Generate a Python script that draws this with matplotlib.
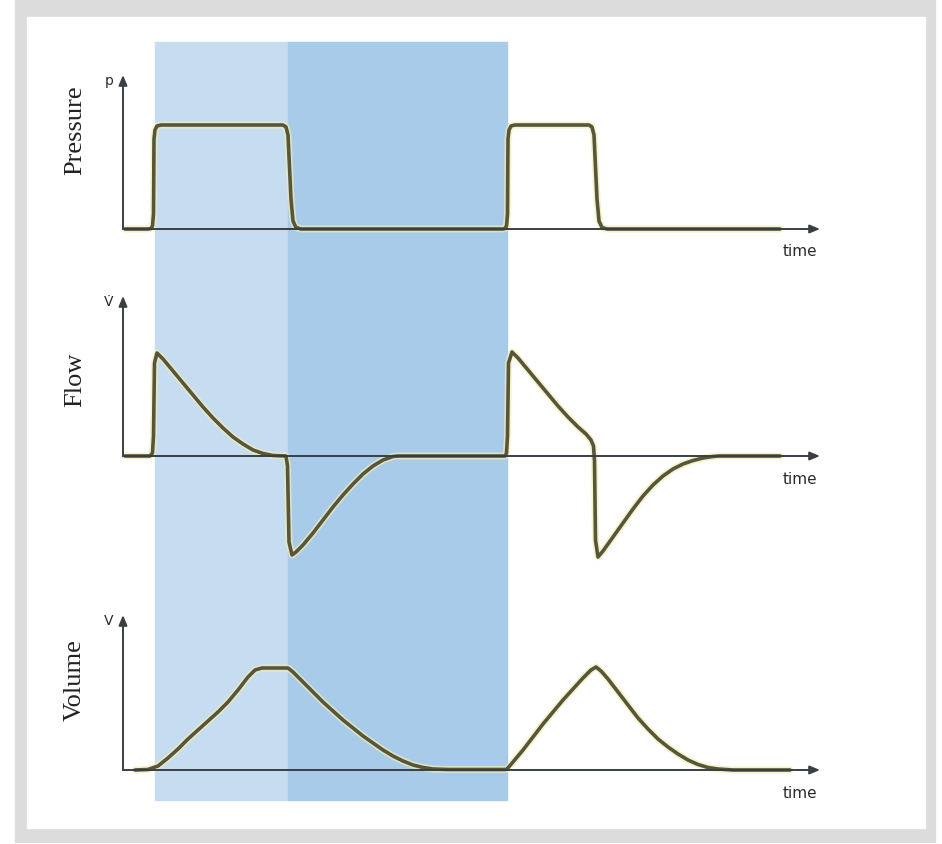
import matplotlib
matplotlib.use("Agg")
import matplotlib.pyplot as plt
import matplotlib.patheffects as pe
from matplotlib.patches import Rectangle
from matplotlib.transforms import blended_transform_factory

# waveform samples (time in arbitrary units)
p_time = [0.2, 2.5, 2.8, 2.95, 3.05, 3.1, 3.2, 3.4, 3.8, 16.0, 16.3, 16.5, 16.8, 17.0,
          17.3, 17.8, 38.0, 38.2, 38.35, 38.45, 38.5, 38.6, 38.8, 39.2, 46.6, 46.9,
          47.1, 47.4, 47.6, 47.9, 48.4, 65.7]
pressure = [0, 0, 0.05, 0.3, 1.5, 9.0, 9.9, 10.3, 10.4, 10.4, 10.2, 9.4, 3.0, 0.8,
            0.15, 0, 0, 0.05, 0.3, 1.5, 9.0, 9.9, 10.3, 10.4, 10.4, 10.2,
            9.4, 3.0, 0.8, 0.15, 0, 0]

f_time = [0.2, 2.7, 2.95, 3.05, 3.15, 3.4, 4.0, 5.0, 6.0, 7.0, 8.0, 9.0, 10.0, 11.0,
          12.0, 13.0, 14.0, 15.0, 16.3, 16.45, 16.6, 16.9, 17.3, 18.0, 19.0, 20.0,
          21.0, 22.0, 23.0, 24.0, 25.0, 26.0, 27.0, 27.5, 38.2, 38.35, 38.45, 38.55,
          38.9, 39.5, 40.5, 41.5, 42.5, 43.5, 44.5, 45.5, 46.3, 46.8, 47.05, 47.15,
          47.25, 47.5, 48.0, 49.0, 50.0, 51.0, 52.0, 53.0, 54.0, 55.0, 56.0, 57.0,
          58.0, 59.0, 59.6, 65.7]
flow = [0, 0, 0.3, 2.0, 9.3, 10.3, 9.7, 8.5, 7.3, 6.1, 4.9, 3.8, 2.8, 1.9,
        1.2, 0.6, 0.25, 0.05, 0, -1.0, -8.6, -9.9, -9.6, -8.9, -7.7, -6.4,
        -5.1, -3.9, -2.8, -1.8, -1.0, -0.4, -0.05, 0, 0, 0.3, 2.0, 9.3,
        10.4, 9.8, 8.6, 7.4, 6.2, 5.0, 3.9, 2.9, 2.2, 1.6, 1.0, -0.5,
        -8.4, -10.1, -9.5, -8.1, -6.7, -5.3, -4.0, -2.9, -2.0, -1.3, -0.8, -0.45,
        -0.2, -0.05, 0, 0]

v_time = [1.2, 2.5, 3.5, 4.5, 5.5, 6.5, 7.5, 8.5, 9.5, 10.5, 11.5, 12.5, 13.2, 13.9,
          16.5, 17.0, 18.0, 19.0, 20.0, 21.0, 22.0, 23.0, 24.0, 25.0, 26.0, 27.0,
          28.0, 29.0, 30.0, 31.0, 32.5, 38.2, 38.4, 39.0, 40.0, 41.0, 42.0, 43.0,
          44.0, 45.0, 46.0, 46.8, 47.3, 47.8, 48.5, 49.5, 50.5, 51.5, 52.5, 53.5,
          54.5, 55.5, 56.5, 57.5, 58.5, 59.5, 61.0, 66.7]
volume = [0, 0.05, 0.4, 1.2, 2.1, 3.1, 4.0, 4.9, 5.8, 6.8, 8.0, 9.3, 10.0, 10.2,
          10.2, 9.8, 8.8, 7.8, 6.8, 5.9, 5.0, 4.2, 3.4, 2.7, 2.0, 1.4,
          0.9, 0.5, 0.25, 0.1, 0.05, 0.05, 0.1, 0.8, 2.0, 3.3, 4.6, 5.8,
          7.0, 8.1, 9.2, 10.0, 10.3, 9.9, 9.1, 7.8, 6.5, 5.2, 4.1, 3.1,
          2.3, 1.6, 1.0, 0.55, 0.25, 0.1, 0, 0]

insp = (3.2, 16.5)   # light shaded phase
exp_ = (16.5, 38.4)  # darker shaded phase

W, H = 942, 844
SCALE = 10.0  # px per data unit
X0 = 123      # px of time origin
XLIM = (-2, 72)

line_col = "#57553a"
axis_col = "#3a3f45"
glow = [pe.Stroke(linewidth=5, foreground="#f3edb4", alpha=0.7), pe.Normal()]


def make_axes(fig, y0, ylim):
    left = (X0 + XLIM[0] * SCALE) / W
    width = (XLIM[1] - XLIM[0]) * SCALE / W
    bottom = 1 - (y0 - ylim[0] * SCALE) / H
    height = (ylim[1] - ylim[0]) * SCALE / H
    ax = fig.add_axes([left, bottom, width, height])
    ax.set_xlim(*XLIM)
    ax.set_ylim(*ylim)
    ax.set_axis_off()
    ax.patch.set_alpha(0)
    ax.set_zorder(2)
    return ax


def draw_frame(ax, ytop, sym, name, name_y):
    arr = dict(arrowstyle="-|>,head_length=0.6,head_width=0.25", color=axis_col, lw=1.4,
               shrinkA=0, shrinkB=0)
    ax.annotate("", xy=(69.7, 0), xytext=(0, 0), arrowprops=arr)
    ax.annotate("", xy=(0, ytop), xytext=(0, 0), arrowprops=arr)
    ax.text(67.7, -2.3, "time", ha="center", va="center", fontsize=11,
            color="#2a2a2a", family="DejaVu Sans")
    ax.text(-1.4, ytop - 0.6, sym, ha="center", va="center", fontsize=10,
            color="#2a2a2a", family="DejaVu Sans")
    ax.text(-4.8, name_y, name, ha="center", va="center", rotation=90,
            fontsize=19, color="#222222", family="Liberation Serif")


fig = plt.figure(figsize=(W / 100, H / 100), dpi=100)
fig.patch.set_facecolor("white")
fig.patches.append(Rectangle((15 / W, 1 - 842 / H), 920 / W, 842 / H,
                             transform=fig.transFigure, color="#dcdcdc", zorder=0))
fig.patches.append(Rectangle((27 / W, 1 - 828 / H), 898 / W, 811 / H,
                             transform=fig.transFigure, color="white", zorder=0))

ax_p = make_axes(fig, 229, (-4, 17))
ax_f = make_axes(fig, 456, (-12, 17))
ax_v = make_axes(fig, 770, (-4, 17))

# shaded phases spanning all three panels
tr = blended_transform_factory(ax_p.transData, fig.transFigure)
for (a, b), c in [(insp, "#c6ddf1"), (exp_, "#a9cbea")]:
    fig.patches.append(Rectangle((a, 1 - 800 / H), b - a, 758 / H,
                                 transform=tr, color=c, zorder=0.5))

for ax, t, y in [(ax_p, p_time, pressure), (ax_f, f_time, flow), (ax_v, v_time, volume)]:
    ax.plot(t, y, color=line_col, lw=2.6, path_effects=glow,
            solid_joinstyle="round", solid_capstyle="round", zorder=3)

draw_frame(ax_p, 15.4, "p", "Pressure", 9.9)
draw_frame(ax_f, 16.0, "V\u0307", "Flow", 7.6)
draw_frame(ax_v, 15.5, "V", "Volume", 9.0)

fig.savefig("out.png", dpi=100)
